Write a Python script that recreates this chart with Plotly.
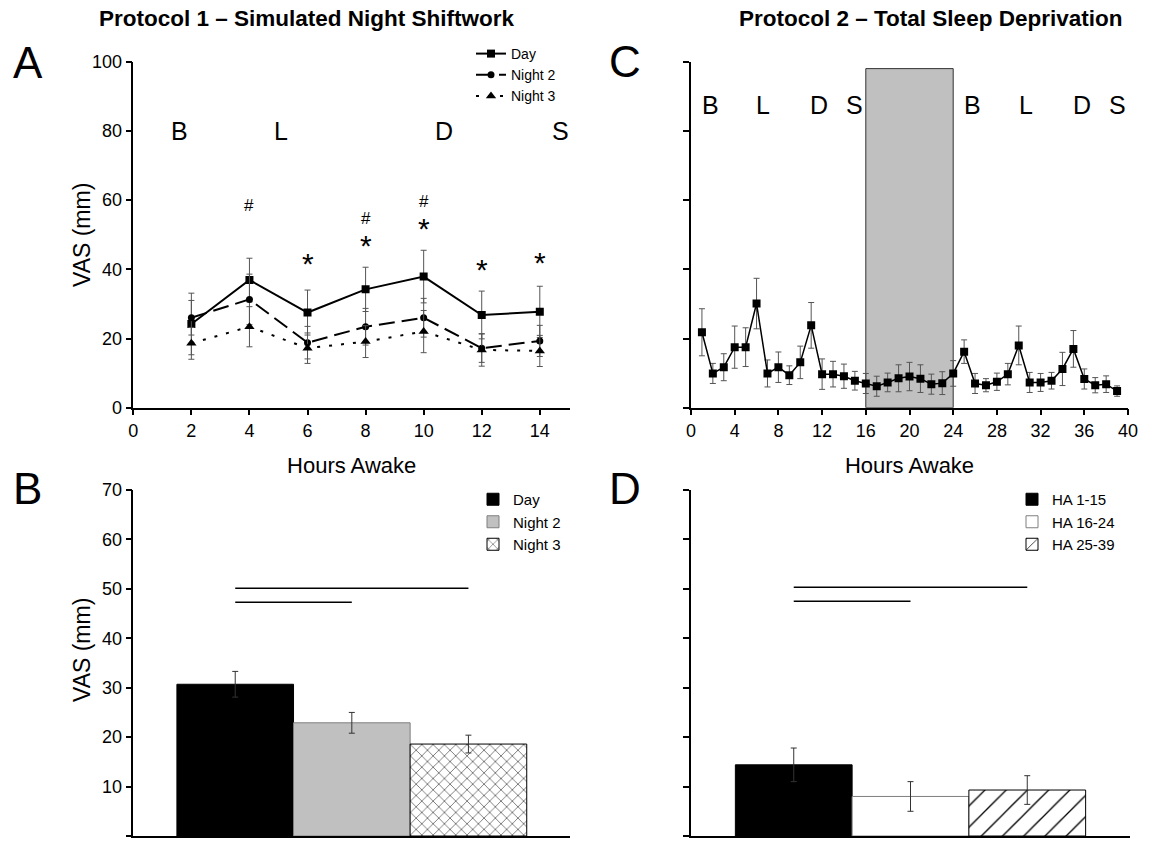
import plotly.graph_objects as go

W, H = 1167, 843

# ---------------- Panel A: simulated night shiftwork ----------------
hours_a = [2, 4, 6, 8, 10, 12, 14]
day_vas = [24.2, 36.9, 27.5, 34.2, 37.9, 26.8, 27.7]
day_err = [8.9, 6.3, 6.5, 6.4, 7.6, 6.9, 7.4]
night2_vas = [26.0, 31.3, 18.8, 23.4, 26.0, 17.2, 19.3]
night2_err = [5.0, 7.3, 4.7, 5.3, 5.6, 4.1, 4.5]
night3_vas = [18.6, 23.4, 17.2, 19.1, 22.0, 16.7, 16.4]
night3_err = [4.6, 5.8, 4.4, 4.6, 6.1, 4.7, 4.5]

meal_a_labels = ["B", "L", "D", "S"]
meal_a_hours = [1.6, 5.1, 10.7, 14.7]
meal_a_level = 80

hash_hours = [4, 8, 10]
hash_y = [58.5, 54.7, 59.7]
star_hours = [6, 8, 10, 12, 14]
star_y = [43.6, 49.0, 53.8, 41.9, 44.1]

# ---------------- Panel C: total sleep deprivation ----------------
hours_c = list(range(1, 40))
tsd_vas = [21.8, 9.9, 11.7, 17.5, 17.5, 30.1, 9.9, 11.7, 9.4, 13.1,
           23.8, 9.7, 9.7, 9.1, 7.8, 7.0, 6.2, 7.3, 8.5, 9.0,
           8.4, 6.8, 7.1, 9.9, 16.2, 7.0, 6.5, 7.5, 9.7, 18.0,
           7.3, 7.3, 7.8, 11.2, 17.0, 8.3, 6.5, 6.8, 4.8]
tsd_err = [6.8, 2.9, 3.9, 6.1, 5.6, 7.3, 3.9, 4.4, 2.7, 4.7,
           6.6, 4.4, 3.7, 3.5, 2.7, 2.9, 2.9, 2.7, 3.9, 4.1,
           4.0, 2.9, 3.3, 3.7, 3.4, 2.9, 1.9, 2.5, 3.1, 5.6,
           2.9, 2.6, 2.4, 4.8, 5.3, 2.9, 2.2, 2.4, 1.5]
meal_c_labels = ["B", "L", "D", "S", "B", "L", "D", "S"]
meal_c_hours = [1.75, 6.6, 11.75, 14.95, 25.8, 30.7, 35.8, 39.0]
meal_c_level = 87.4
sd_window = [16, 24]
sd_window_top = 98

# ---------------- Panel B: mean by condition ----------------
b_groups = ["Day", "Night 2", "Night 3"]
b_vas = [30.7, 22.9, 18.6]
b_err = [2.6, 2.1, 1.8]
b_sig = [(0, 2, 50.1), (0, 1, 47.3)]

# ---------------- Panel D: mean by hours awake ----------------
d_groups = ["HA 1-15", "HA 16-24", "HA 25-39"]
d_vas = [14.4, 8.0, 9.3]
d_err = [3.4, 3.0, 2.9]
d_sig = [(0, 2, 50.3), (0, 1, 47.5)]

FONT = "Liberation Sans, Arial, sans-serif"
ERRC = "#555555"


def px(x):
    return x / W


def py(y):
    return 1 - y / H


fig = go.Figure()

# Panel A traces
series_a = [
    ("Day", day_vas, day_err, "square", 8, "solid"),
    ("Night 2", night2_vas, night2_err, "circle", 7, "16px,7px"),
    ("Night 3", night3_vas, night3_err, "triangle-up", 9, "3px,9px"),
]
for name, vals, errs, sym, size, dash in series_a:
    fig.add_trace(go.Scatter(
        x=hours_a, y=vals, name=name, mode="lines+markers",
        line=dict(color="black", width=2, dash=dash),
        marker=dict(symbol=sym, size=size, color="black"),
        error_y=dict(type="data", array=errs, color=ERRC, thickness=1, width=3),
        xaxis="x", yaxis="y", legend="legend",
    ))

# Panel C trace
fig.add_trace(go.Scatter(
    x=hours_c, y=tsd_vas, name="TSD", mode="lines+markers",
    line=dict(color="black", width=1.5),
    marker=dict(symbol="square", size=8, color="black"),
    error_y=dict(type="data", array=tsd_err, color=ERRC, thickness=1, width=3),
    xaxis="x2", yaxis="y2", showlegend=False,
))

# Panel B bars
b_styles = [
    dict(color="black", line=dict(color="black", width=1)),
    dict(color="#c0c0c0", line=dict(color="#7f7f7f", width=1)),
    dict(color="white", line=dict(color="black", width=1),
         pattern=dict(shape="x", size=8, solidity=0.12, fgcolor="black", bgcolor="white")),
]
for i, (g, v, e) in enumerate(zip(b_groups, b_vas, b_err)):
    fig.add_trace(go.Bar(
        x=[i], y=[v], name=g, width=1, marker=b_styles[i],
        error_y=dict(type="data", array=[e], color="#333333", thickness=1, width=3),
        xaxis="x3", yaxis="y3", legend="legend2",
    ))

# Panel D bars
d_styles = [
    dict(color="black", line=dict(color="black", width=1)),
    dict(color="white", line=dict(color="#7f7f7f", width=1)),
    dict(color="white", line=dict(color="black", width=1),
         pattern=dict(shape="/", size=15, solidity=0.09, fgcolor="black", bgcolor="white")),
]
for i, (g, v, e) in enumerate(zip(d_groups, d_vas, d_err)):
    fig.add_trace(go.Bar(
        x=[i], y=[v], name=g, width=1, marker=d_styles[i],
        error_y=dict(type="data", array=[e], color="#333333", thickness=1, width=3),
        xaxis="x4", yaxis="y4", legend="legend3",
    ))

shapes = []
# sleep deprivation window in C
shapes.append(dict(type="rect", xref="x2", yref="y2", x0=sd_window[0], x1=sd_window[1],
                   y0=0, y1=sd_window_top, fillcolor="#c0c0c0",
                   line=dict(color="#333333", width=1), layer="below"))
for a, b, y in b_sig:
    shapes.append(dict(type="line", xref="x3", yref="y3", x0=a, x1=b, y0=y, y1=y,
                       line=dict(color="black", width=1.5)))
for a, b, y in d_sig:
    shapes.append(dict(type="line", xref="x4", yref="y4", x0=a, x1=b, y0=y, y1=y,
                       line=dict(color="black", width=1.5)))

ann = []
for lab, h in zip(meal_a_labels, meal_a_hours):
    ann.append(dict(x=h, y=meal_a_level, xref="x", yref="y", text=lab, showarrow=False,
                    font=dict(size=25, color="black", family=FONT)))
for lab, h in zip(meal_c_labels, meal_c_hours):
    ann.append(dict(x=h, y=meal_c_level, xref="x2", yref="y2", text=lab, showarrow=False,
                    font=dict(size=25, color="black", family=FONT)))
for h, y in zip(hash_hours, hash_y):
    ann.append(dict(x=h, y=y, xref="x", yref="y", text="#", showarrow=False,
                    font=dict(size=17, color="black", family=FONT)))
for h, y in zip(star_hours, star_y):
    ann.append(dict(x=h, y=y, xref="x", yref="y", text="*", showarrow=False, yshift=-7,
                    font=dict(size=30, color="black", family=FONT)))

# panel letters
for lab, x, y in [("A", 27.5, 63), ("B", 27.5, 488), ("C", 625, 62), ("D", 625, 488)]:
    ann.append(dict(x=px(x), y=py(y), xref="paper", yref="paper", text=lab, showarrow=False,
                    xanchor="center", yanchor="middle",
                    font=dict(size=44, color="black", family=FONT)))
# y-axis titles
for x, y in [(82, 235), (82, 650)]:
    ann.append(dict(x=px(x), y=py(y), xref="paper", yref="paper", text="VAS (mm)",
                    showarrow=False, textangle=-90, xanchor="center", yanchor="middle",
                    font=dict(size=23, color="black", family=FONT)))
# titles
for txt, x in [("Protocol 1 – Simulated Night Shiftwork", 307),
               ("Protocol 2 – Total Sleep Deprivation", 930)]:
    ann.append(dict(x=px(x), y=py(18), xref="paper", yref="paper", text="<b>" + txt + "</b>",
                    showarrow=False, xanchor="center", yanchor="middle",
                    font=dict(size=22.5, color="black",
                              family="Liberation Sans Narrow, Arial Narrow, Liberation Sans, sans-serif")))

axis_common = dict(showline=True, linecolor="black", linewidth=1.5, ticks="outside",
                   ticklen=6, tickwidth=1.5, tickcolor="black", showgrid=False,
                   zeroline=False, automargin=False,
                   tickfont=dict(size=18, color="black", family=FONT))
title_font = dict(size=22, color="black", family=FONT)

yA_dom = [py(407.7), py(61.7)]
yB_dom = [py(836), py(490)]

fig.update_layout(
    template="none",
    width=W, height=H, margin=dict(l=0, r=0, t=0, b=0, autoexpand=False),
    paper_bgcolor="white", plot_bgcolor="white",
    font=dict(family=FONT, color="black"),
    barmode="overlay",
    xaxis=dict(axis_common, domain=[px(133.3), px(570)], range=[0, 15.04], tickvals=list(range(0, 15, 2)),
               title=dict(text="Hours Awake", font=title_font, standoff=18), anchor="y"),
    yaxis=dict(axis_common, domain=yA_dom, range=[0, 100], tickvals=list(range(0, 101, 20)),
               anchor="x"),
    xaxis2=dict(axis_common, domain=[px(691), px(1128)], range=[0, 40], tickvals=list(range(0, 41, 4)),
                title=dict(text="Hours Awake", font=title_font, standoff=18), anchor="y2"),
    yaxis2=dict(axis_common, domain=yA_dom, range=[0, 100], tickvals=list(range(0, 101, 20)),
                showticklabels=False, anchor="x2"),
    xaxis3=dict(axis_common, domain=[px(133.3), px(570)], range=[-0.874, 2.871], ticks="",
                showticklabels=False, anchor="y3"),
    yaxis3=dict(axis_common, domain=yB_dom, range=[0, 70], tickvals=list(range(0, 71, 10)),
                anchor="x3"),
    xaxis4=dict(axis_common, domain=[px(691), px(1130)], range=[-0.88, 2.88], ticks="",
                showticklabels=False, anchor="y4"),
    yaxis4=dict(axis_common, domain=yB_dom, range=[0, 70], tickvals=list(range(0, 71, 10)),
                showticklabels=False, anchor="x4"),
    legend=dict(x=px(471), y=py(38), xanchor="left", yanchor="top", bgcolor="rgba(0,0,0,0)",
                font=dict(size=14, color="black", family=FONT), tracegroupgap=0),
    legend2=dict(x=px(473), y=py(483), xanchor="left", yanchor="top", bgcolor="rgba(0,0,0,0)",
                 font=dict(size=15, color="black", family=FONT), tracegroupgap=0),
    legend3=dict(x=px(1012), y=py(483), xanchor="left", yanchor="top", bgcolor="rgba(0,0,0,0)",
                 font=dict(size=15, color="black", family=FONT), tracegroupgap=0),
    shapes=shapes, annotations=ann,
)

fig.write_html(
    "out.html",
    config={"displayModeBar": False},
    post_script="document.body.style.margin='0';document.body.style.overflow='hidden';",
)
